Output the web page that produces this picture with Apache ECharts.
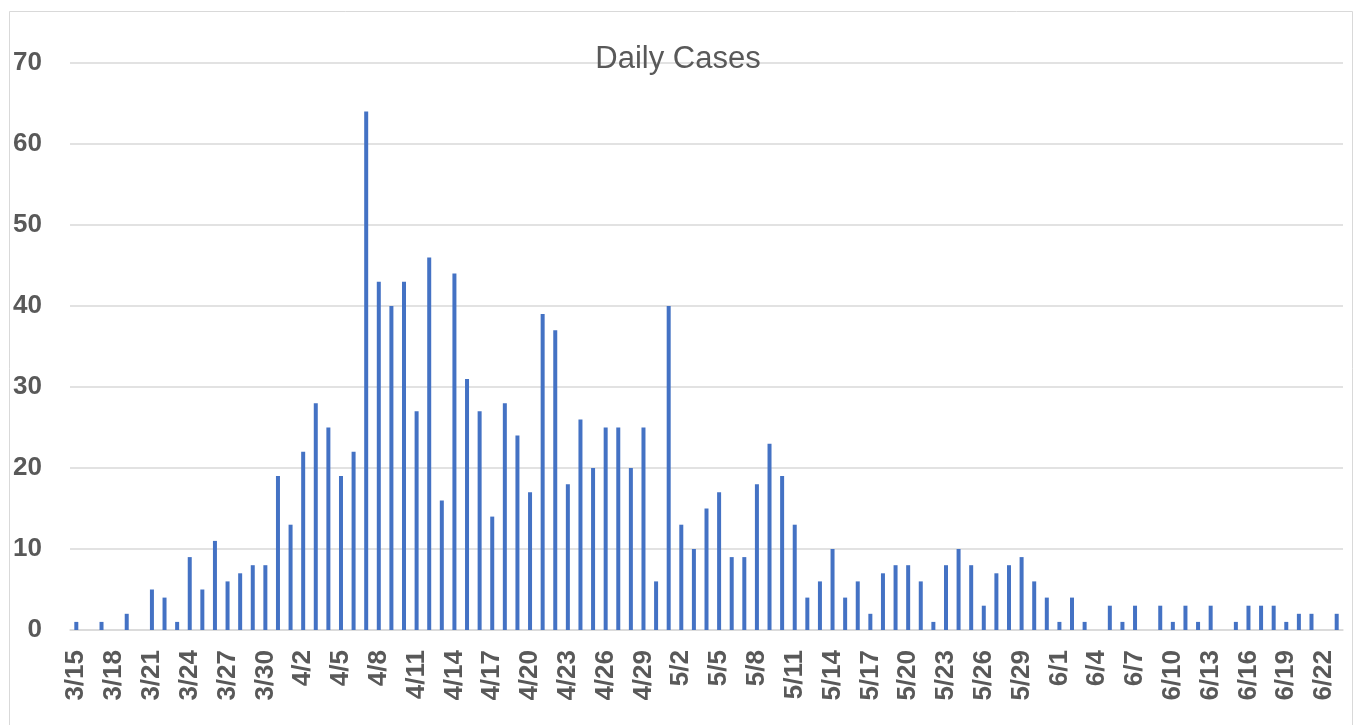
<!DOCTYPE html>
<html>
<head>
<meta charset="utf-8">
<title>Daily Cases</title>
<script src="https://cdn.jsdelivr.net/npm/echarts@6/dist/echarts.min.js"></script>
<style>
  html, body { margin: 0; padding: 0; background: #fff; }
  #main { width: 1356px; height: 725px; }
</style>
</head>
<body>
<div id="main"></div>
<script>
// dates, 3/15 .. 6/23
const days = [
  '3/15','3/16','3/17','3/18','3/19','3/20','3/21','3/22','3/23','3/24','3/25','3/26','3/27','3/28','3/29','3/30','3/31',
  '4/1','4/2','4/3','4/4','4/5','4/6','4/7','4/8','4/9','4/10','4/11','4/12','4/13','4/14','4/15','4/16','4/17','4/18','4/19','4/20',
  '4/21','4/22','4/23','4/24','4/25','4/26','4/27','4/28','4/29','4/30',
  '5/1','5/2','5/3','5/4','5/5','5/6','5/7','5/8','5/9','5/10','5/11','5/12','5/13','5/14','5/15','5/16','5/17','5/18','5/19','5/20',
  '5/21','5/22','5/23','5/24','5/25','5/26','5/27','5/28','5/29','5/30','5/31',
  '6/1','6/2','6/3','6/4','6/5','6/6','6/7','6/8','6/9','6/10','6/11','6/12','6/13','6/14','6/15','6/16','6/17','6/18','6/19','6/20',
  '6/21','6/22','6/23'
]

const marchCases = [1, 0, 1, 0, 2, 0, 5, 4, 1, 9, 5, 11, 6, 7, 8, 8, 19]
const aprilCases = [13, 22, 28, 25, 19, 22, 64, 43, 40, 43, 27, 46, 16, 44, 31, 27, 14, 28, 24, 17,
  39, 37, 18, 26, 20, 25, 25, 20, 25, 6]
const mayCases = [40, 13, 10, 15, 17, 9, 9, 18, 23, 19, 13, 4, 6, 10, 4, 6, 2, 7, 8, 8,
  6, 1, 8, 10, 8, 3, 7, 8, 9, 6, 4]
const juneCases = [1, 4, 1, 0, 3, 1, 3, 0, 3, 1, 3, 1, 3, 0, 1, 3, 3, 3, 1, 2,
  2, 0, 2]

const dailyCases = marchCases.concat(aprilCases, mayCases, juneCases)

const yTicks = [0, 10, 20, 30, 40, 50, 60, 70]

const chart = echarts.init(document.getElementById('main'))

const labelFont = 'Liberation Sans, Arial, sans-serif'

chart.setOption({
  backgroundColor: '#ffffff',
  animation: false,
  title: {
    text: 'Daily Cases',
    left: 'center',
    top: 39,
    textStyle: {
      fontFamily: labelFont,
      fontSize: 31,
      fontWeight: 'normal',
      color: '#595959'
    }
  },
  // outer chart border
  graphic: [{
    type: 'rect',
    shape: { x: 9.5, y: 11.5, width: 1343, height: 730 },
    style: { fill: 'none', stroke: '#d9d9d9', lineWidth: 1 },
    silent: true,
    z: -1
  }],
  grid: {
    left: 70,
    right: 13,
    top: 63,
    bottom: 95
  },
  xAxis: {
    type: 'category',
    data: days,
    axisLine: { show: true, lineStyle: { color: '#d9d9d9', width: 1.5 } },
    axisTick: { show: false },
    axisLabel: {
      interval: 2,
      rotate: 90,
      margin: 20,
      fontFamily: labelFont,
      fontSize: 26,
      fontWeight: 'bold',
      color: '#595959'
    }
  },
  yAxis: {
    type: 'value',
    min: yTicks[0],
    max: yTicks[yTicks.length - 1],
    interval: 10,
    axisLine: { show: false },
    axisTick: { show: false },
    splitLine: { lineStyle: { color: '#d9d9d9', width: 1.5 } },
    axisLabel: {
      margin: 28,
      fontFamily: labelFont,
      fontSize: 26,
      fontWeight: 'bold',
      color: '#595959'
    }
  },
  series: [{
    name: 'Daily Cases',
    type: 'bar',
    data: dailyCases,
    barWidth: 4,
    itemStyle: { color: '#4472c4' }
  }]
})
</script>
</body>
</html>
